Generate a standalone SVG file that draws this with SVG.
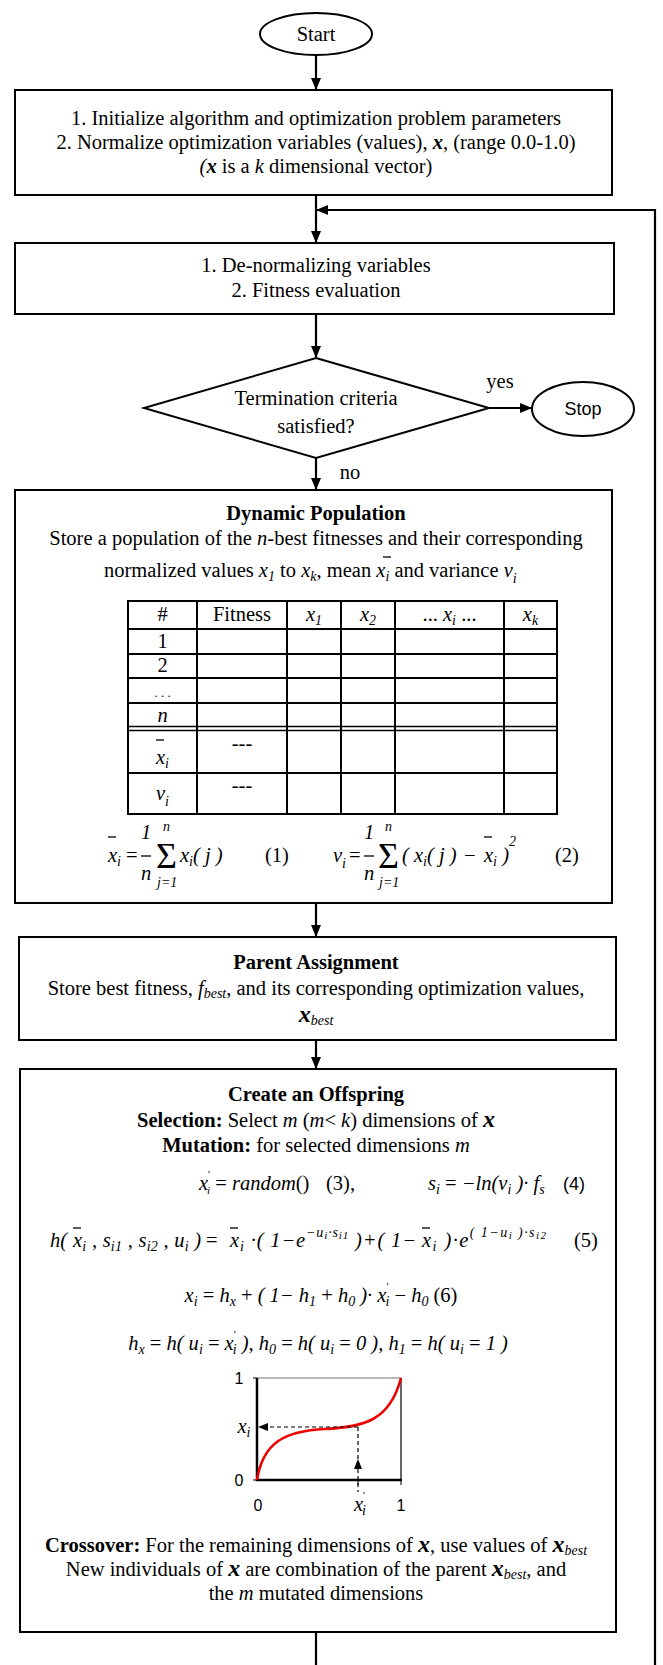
<svg xmlns="http://www.w3.org/2000/svg" width="663" height="1665" viewBox="0 0 663 1665">
<defs>
<marker id="ah" markerWidth="12" markerHeight="10" refX="11" refY="5" orient="auto" markerUnits="userSpaceOnUse">
<path d="M0,0 L12,5 L0,10 z" fill="#000"/>
</marker>
</defs>
<style>
.box{fill:#fff;stroke:#000;stroke-width:2}
.ln{fill:none;stroke:#000;stroke-width:2.2}
.t{font-family:"Liberation Serif","Times New Roman",serif;font-size:20.5px;fill:#000}
.c{text-anchor:middle}
.i{font-style:italic}
.n{font-style:normal}
.b{font-weight:bold}
.s{font-size:14px}
.ss{font-size:11px}
.bx{font-size:24px;font-weight:bold;font-style:italic}
.sans{font-family:"Liberation Sans",Arial,sans-serif}
.bar{stroke:#000;stroke-width:1.3}
.tl{stroke:#000;stroke-width:2}
.dash{fill:none;stroke:#000;stroke-width:1.2;stroke-dasharray:4,3}
.sig{font-size:36px;font-style:normal}
</style>

<g id="connectors">
<path class="ln" d="M316,55 V89" marker-end="url(#ah)"/>
<path class="ln" d="M316,195 V242" marker-end="url(#ah)"/>
<path class="ln" d="M316,314 V357" marker-end="url(#ah)"/>
<path class="ln" d="M489,408 H531" marker-end="url(#ah)"/>
<path class="ln" d="M316,458 V489" marker-end="url(#ah)"/>
<path class="ln" d="M316,903 V936" marker-end="url(#ah)"/>
<path class="ln" d="M316,1040 V1068" marker-end="url(#ah)"/>
<path class="ln" d="M316,1632 V1665"/>
<path class="ln" d="M655,1665 V210 H317" marker-end="url(#ah)"/>
<text class="t c" x="500" y="388">yes</text>
<text class="t c" x="350" y="479">no</text>
</g>

<g id="start">
<ellipse cx="316" cy="34" rx="56" ry="21" class="box"/>
<text class="t c" x="316" y="41">Start</text>
</g>

<g id="init">
<rect x="15" y="90" width="597" height="105" class="box"/>
<text class="t c" x="316" y="125">1. Initialize algorithm and optimization problem parameters</text>
<text class="t c" x="316" y="149">2. Normalize optimization variables (values), <tspan class="b i">x</tspan>, (range 0.0-1.0)</text>
<text class="t c" x="316" y="173"><tspan class="i">(</tspan><tspan class="b i">x</tspan> is a <tspan class="i">k</tspan> dimensional vector)</text>
</g>

<g id="evaluate">
<rect x="15" y="243" width="599" height="71" class="box"/>
<text class="t c" x="316" y="272">1. De-normalizing variables</text>
<text class="t c" x="316" y="297">2. Fitness evaluation</text>
</g>

<g id="decision">
<path d="M316,358 L489,408 L316,458 L144,408 Z" class="box"/>
<text class="t c" x="316" y="405">Termination criteria</text>
<text class="t c" x="316" y="433">satisfied?</text>
</g>

<g id="stop">
<ellipse cx="583" cy="409" rx="51" ry="27" class="box"/>
<text class="sans c" font-size="18" x="583" y="415">Stop</text>
</g>

<g id="population">
<rect x="15" y="490" width="597" height="413" class="box"/>
<text class="t c b" x="316" y="520">Dynamic Population</text>
<text class="t c" x="316" y="545">Store a population of the <tspan class="i">n</tspan>-best fitnesses and their corresponding</text>
<text class="t" x="104" y="577">normalized values <tspan class="i">x</tspan><tspan class="s i" dy="4">1</tspan><tspan dy="-4"> to </tspan><tspan class="i">x</tspan><tspan class="s i" dy="4">k</tspan><tspan dy="-4">, mean  </tspan><tspan class="i">x</tspan><tspan class="s i" dy="4">i</tspan><tspan dy="-4"> and variance  </tspan><tspan class="i">v</tspan><tspan class="s i" dy="6">i</tspan></text>
<line class="bar" x1="383" y1="557" x2="391" y2="557"/>
<!-- table -->
<rect x="128" y="601" width="429" height="213" fill="none" class="tl"/>
<path class="tl" d="M197,601 V814 M287,601 V814 M341,601 V814 M395,601 V814 M504,601 V814 M128,629 H557 M128,654 H557 M128,678 H557 M128,703 H557 M128,773 H557"/>
<path stroke="#000" stroke-width="1.6" d="M128,726.5 H557 M128,730.5 H557"/>
<text class="t c" x="162.5" y="621">#</text>
<text class="t c" x="242" y="621">Fitness</text>
<text class="t c i" x="314" y="621">x<tspan class="s" dy="4">1</tspan></text>
<text class="t c i" x="368" y="621">x<tspan class="s" dy="4">2</tspan></text>
<text class="t c" x="449.5" y="621">...  <tspan class="i">x</tspan><tspan class="s i" dy="4">i</tspan><tspan dy="-4"> ...</tspan></text>
<text class="t c i" x="530.5" y="621">x<tspan class="s" dy="4">k</tspan></text>
<text class="t c" x="162.5" y="648">1</text>
<text class="t c" x="162.5" y="672">2</text>
<text class="t c" style="font-size:13px" x="162.5" y="697">. . .</text>
<text class="t c i" x="162.5" y="722">n</text>
<text class="t c" x="162.5" y="764"><tspan class="i">x</tspan><tspan class="s i" dy="4">i</tspan></text>
<line class="bar" x1="156" y1="740" x2="164" y2="740"/>
<text class="t c" x="242" y="750">---</text>
<text class="t c" x="162.5" y="800"><tspan class="i">v</tspan><tspan class="s i" dy="6">i</tspan></text>
<text class="t c" x="242" y="792">---</text>
<!-- formula 1 -->
<text class="t i" x="108" y="862">x<tspan class="s" dy="4">i</tspan></text>
<line class="bar" x1="108" y1="837" x2="116" y2="837"/>
<text class="t" x="126" y="862">=</text>
<text class="t i c" x="146" y="839">1</text>
<line class="bar" x1="141" y1="856" x2="151" y2="856"/>
<text class="t i c" x="146" y="880">n</text>
<text class="t" x="156" y="868"><tspan class="sig">Σ</tspan><tspan class="s i" x="163" y="831">n</tspan><tspan class="s i" x="157" y="887">j=1</tspan></text>
<text class="t i" x="180" y="862">x<tspan class="s" dy="4">i</tspan><tspan dy="-4">( j )</tspan></text>
<text class="t" x="265" y="862">(1)</text>
<!-- formula 2 -->
<text class="t i" x="333" y="862">v<tspan class="s" dy="6">i</tspan></text>
<text class="t" x="349" y="862">=</text>
<text class="t i c" x="369" y="839">1</text>
<line class="bar" x1="364" y1="856" x2="374" y2="856"/>
<text class="t i c" x="369" y="880">n</text>
<text class="t" x="378" y="868"><tspan class="sig">Σ</tspan><tspan class="s i" x="385" y="831">n</tspan><tspan class="s i" x="379" y="887">j=1</tspan></text>
<text class="t i" x="402" y="862">( x<tspan class="s" dy="4">i</tspan><tspan dy="-4">( j )</tspan></text>
<text class="t" x="464" y="862">−</text>
<text class="t i" x="484" y="862">x<tspan class="s" dy="4">i</tspan><tspan dy="-4"> )</tspan></text>
<line class="bar" x1="484" y1="837" x2="492" y2="837"/>
<text class="t i s" x="509" y="846">2</text>
<text class="t" x="555" y="862">(2)</text>
</g>

<g id="parent">
<rect x="19" y="937" width="597" height="103" class="box"/>
<text class="t c b" x="316" y="969">Parent Assignment</text>
<text class="t c" x="316" y="995">Store best fitness, <tspan class="i">f</tspan><tspan class="s i" dy="3">best</tspan><tspan dy="-3">, and its corresponding optimization values,</tspan></text>
<text class="t c" x="316" y="1022"><tspan class="bx">x</tspan><tspan class="s i" dy="3">best</tspan></text>
</g>

<g id="offspring">
<rect x="20" y="1069" width="596" height="563" class="box"/>
<text class="t c b" x="316" y="1101">Create an Offspring</text>
<text class="t c" x="316" y="1127"><tspan class="b">Selection:</tspan> Select <tspan class="i">m</tspan> (<tspan class="i">m</tspan>&lt; <tspan class="i">k</tspan>) dimensions of <tspan class="bx">x</tspan></text>
<text class="t c" x="316" y="1152"><tspan class="b">Mutation:</tspan> for selected dimensions <tspan class="i">m</tspan></text>
<!-- formula 3,4 -->
<text class="t i" x="199" y="1190">x<tspan class="ss n" dy="-12">'</tspan><tspan class="ss" dx="-3" dy="16">i</tspan><tspan class="n" dy="-4"> = </tspan>random<tspan class="n">()</tspan></text>
<text class="t" x="326" y="1190">(3),</text>
<text class="t i" x="428" y="1190">s<tspan class="s" dy="4">i</tspan><tspan class="n" dy="-4"> = </tspan>−ln(v<tspan class="s" dy="4">i</tspan><tspan dy="-4"> )· f</tspan><tspan class="s" dy="4">s</tspan></text>
<text class="sans" font-size="18" x="563" y="1190">(4)</text>
<!-- formula 5 -->
<text class="t i" x="50" y="1247">h(</text>
<text class="t i" x="73" y="1247" textLength="128" lengthAdjust="spacing">x<tspan class="s" dy="4">i</tspan><tspan dy="-4"> , s</tspan><tspan class="s" dy="4">i1</tspan><tspan dy="-4"> , s</tspan><tspan class="s" dy="4">i2</tspan><tspan dy="-4"> , u</tspan><tspan class="s" dy="4">i</tspan><tspan dy="-4"> )</tspan></text>
<line class="bar" x1="73" y1="1228" x2="81" y2="1228"/>
<text class="t" x="206" y="1247">=</text>
<text class="t i" x="230" y="1247" textLength="186" lengthAdjust="spacing">x<tspan class="s" dy="4">i</tspan><tspan dy="-4"> ·( 1−e</tspan><tspan class="s" dy="-10">−u</tspan><tspan class="ss" dy="2">i</tspan><tspan class="s" dy="-2">·s</tspan><tspan class="ss" dy="2">i1</tspan><tspan dy="8"> )+( 1−</tspan></text>
<line class="bar" x1="230" y1="1228" x2="238" y2="1228"/>
<text class="t i" x="422" y="1247" textLength="124" lengthAdjust="spacing">x<tspan class="s" dy="4">i</tspan><tspan dy="-4"> )·e</tspan><tspan class="s" dy="-10">( 1−u</tspan><tspan class="ss" dy="2">i</tspan><tspan class="s" dy="-2"> )·s</tspan><tspan class="ss" dy="2">i2</tspan></text>
<line class="bar" x1="422" y1="1228" x2="430" y2="1228"/>
<text class="t" x="574" y="1247">(5)</text>
<!-- formula 6 -->
<text class="t c i" x="321" y="1302">x<tspan class="s" dy="4">i</tspan><tspan class="n" dy="-4">  = </tspan>h<tspan class="s" dy="4">x</tspan><tspan class="n" dy="-4"> + </tspan>( 1− h<tspan class="s" dy="4">1</tspan><tspan class="n" dy="-4"> + </tspan>h<tspan class="s" dy="4">0</tspan><tspan dy="-4"> )· x</tspan><tspan class="ss n" dy="-12">'</tspan><tspan class="s" dx="-3" dy="16">i</tspan><tspan class="n" dy="-4"> − </tspan>h<tspan class="s" dy="4">0</tspan><tspan class="n" dy="-4">  (6)</tspan></text>
<!-- h definitions -->
<text class="t c i" x="318" y="1350">h<tspan class="s" dy="4">x</tspan><tspan class="n" dy="-4"> = </tspan>h( u<tspan class="s" dy="4">i</tspan><tspan class="n" dy="-4"> = </tspan>x<tspan class="ss n" dy="-12">'</tspan><tspan class="s" dx="-3" dy="16">i</tspan><tspan dy="-4"> ),    h</tspan><tspan class="s" dy="4">0</tspan><tspan class="n" dy="-4"> = </tspan>h( u<tspan class="s" dy="4">i</tspan><tspan class="n" dy="-4"> = </tspan>0 ),    h<tspan class="s" dy="4">1</tspan><tspan class="n" dy="-4"> = </tspan>h( u<tspan class="s" dy="4">i</tspan><tspan class="n" dy="-4"> = </tspan>1 )</text>
<!-- graph -->
<g id="graph">
<line x1="257" y1="1378" x2="401" y2="1378" stroke="#777" stroke-width="1"/>
<line x1="401" y1="1378" x2="401" y2="1480" stroke="#000" stroke-width="1.2"/>
<line x1="257" y1="1378" x2="257" y2="1481" stroke="#000" stroke-width="2.5"/>
<line x1="256" y1="1480" x2="402" y2="1480" stroke="#000" stroke-width="2.5"/>
<path d="M253,1378 H257 M253,1480 H257 M358,1480 V1485 M401,1480 V1485" stroke="#000" stroke-width="1"/>
<path d="M257,1480 C263,1442 285,1431 325,1429 C365,1427 390,1420 401,1378" fill="none" stroke="#e00" stroke-width="2.6"/>
<path class="dash" d="M358,1427 H266"/>
<path d="M258,1427 L268,1423 L268,1431 Z" fill="#000"/>
<path class="dash" d="M358,1427 V1492"/>
<path d="M358,1459 L354,1469 L362,1469 Z" fill="#000"/>
<text class="sans c" font-size="16" x="239" y="1384">1</text>
<text class="sans c" font-size="16" x="239" y="1486">0</text>
<text class="t c i" x="244" y="1433">x<tspan class="s" dy="4">i</tspan></text>
<text class="sans c" font-size="16" x="258" y="1511">0</text>
<text class="t c i" x="360" y="1511">x<tspan class="ss n" dy="-12">'</tspan><tspan class="s" dx="-3" dy="16">i</tspan></text>
<text class="sans c" font-size="16" x="401" y="1511">1</text>
</g>
<text class="t c" x="316" y="1552"><tspan class="b">Crossover:</tspan> For the remaining dimensions of <tspan class="bx">x</tspan>, use values of <tspan class="bx">x</tspan><tspan class="s i" dy="3">best</tspan></text>
<text class="t c" x="316" y="1576">New individuals of <tspan class="bx">x</tspan> are combination of the parent <tspan class="bx">x</tspan><tspan class="s i" dy="3">best</tspan><tspan dy="-3">, and</tspan></text>
<text class="t c" x="316" y="1600">the <tspan class="i">m</tspan> mutated dimensions</text>
</g>
</svg>
